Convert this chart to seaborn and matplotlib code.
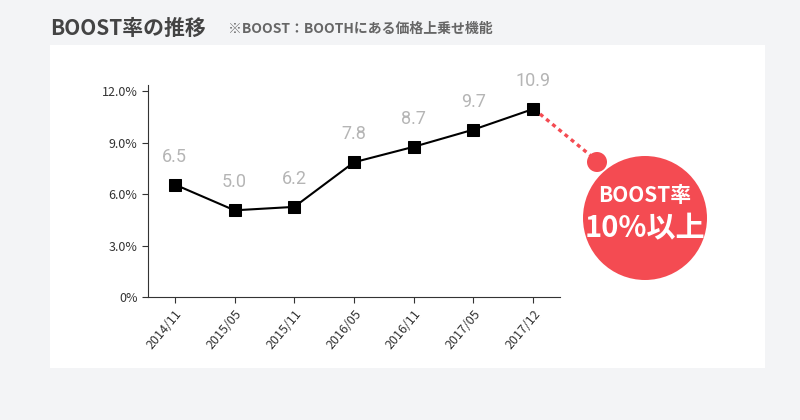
import numpy as np
import pandas as pd
import matplotlib as mpl
mpl.use('Agg')
import matplotlib.pyplot as plt
import matplotlib.patches as mpatches
import seaborn as sns

months = ['2014/11', '2015/05', '2015/11', '2016/05', '2016/11', '2017/05', '2017/12']
rates = [6.55, 5.05, 5.25, 7.85, 8.75, 9.75, 10.95]
labels = ['6.5', '5.0', '6.2', '7.8', '8.7', '9.7', '10.9']

sns.set_style('white')
plt.rcParams['font.family'] = ['Noto Sans CJK JP', 'DejaVu Sans']

fig = plt.figure(figsize=(8, 4.2), dpi=100)
fig.patch.set_facecolor('#f3f4f6')

# background panel in pixel coords
bg = fig.add_axes([0, 0, 1, 1], zorder=-1)
bg.set_xlim(0, 800)
bg.set_ylim(420, 0)
bg.axis('off')
bg.add_patch(mpatches.Rectangle((50, 45), 715, 323, facecolor='white', edgecolor='none'))

fig.text(50 / 800, 1 - 28 / 420, 'BOOST率の推移', fontsize=15, fontweight='bold',
         color='#444444', va='center')
fig.text(228 / 800, 1 - 29 / 420, '※BOOST：BOOTHにある価格上乗せ機能', fontsize=10,
         fontweight='bold', color='#666666', va='center')

ax = fig.add_axes([148 / 800, 1 - 297 / 420, 412 / 800, 212 / 420], zorder=1)
ax.set_facecolor('none')
df = pd.DataFrame({'month': months, 'rate': rates, 'x': range(len(months))})
sns.lineplot(data=df, x='x', y='rate', ax=ax, color='black', lw=1.5,
             marker='s', markersize=9, markeredgecolor='black')
for i, (v, t) in enumerate(zip(rates, labels)):
    ax.text(i, v + 1.1, t, ha='center', va='bottom', fontsize=13, color='#b5b5b5',
            family=['Roboto', 'DejaVu Sans'])
ax.set_xlim(-0.45, 6.45)
ax.set_ylim(0, 12.35)
ax.set_yticks([0, 3, 6, 9, 12])
ax.set_yticklabels(['0%', '3.0%', '6.0%', '9.0%', '12.0%'], fontsize=9, color='#333333')
ax.set_xticks(range(len(months)))
ax.set_xticklabels(months, rotation=50, ha='right', rotation_mode='anchor', fontsize=9, color='#333333')
ax.tick_params(axis='both', length=4, color='#333333', direction='out', bottom=True, left=True)
ax.set_xlabel('')
ax.set_ylabel('')
for s in ['top', 'right']:
    ax.spines[s].set_visible(False)
for s in ['left', 'bottom']:
    ax.spines[s].set_color('#333333')

red = '#f44b52'
top = fig.add_axes([0, 0, 1, 1], zorder=2)
top.set_xlim(0, 800)
top.set_ylim(420, 0)
top.axis('off')
top.plot([540, 596], [114, 160], color=red, lw=2.4, ls=(0, (1.2, 1.2)))
top.add_patch(mpatches.Circle((597, 162), 10, facecolor=red, edgecolor='none'))
top.add_patch(mpatches.Circle((645, 218), 62, facecolor=red, edgecolor='none'))
top.set_aspect('equal')
top.text(645, 196, 'BOOST率', fontsize=15, fontweight='bold', fontstyle='italic',
         color='white', ha='center', va='center')
top.text(645, 228, '10%以上', fontsize=21, fontweight='bold',
         color='white', ha='center', va='center')

fig.savefig('out.png', dpi=100, facecolor=fig.get_facecolor())
